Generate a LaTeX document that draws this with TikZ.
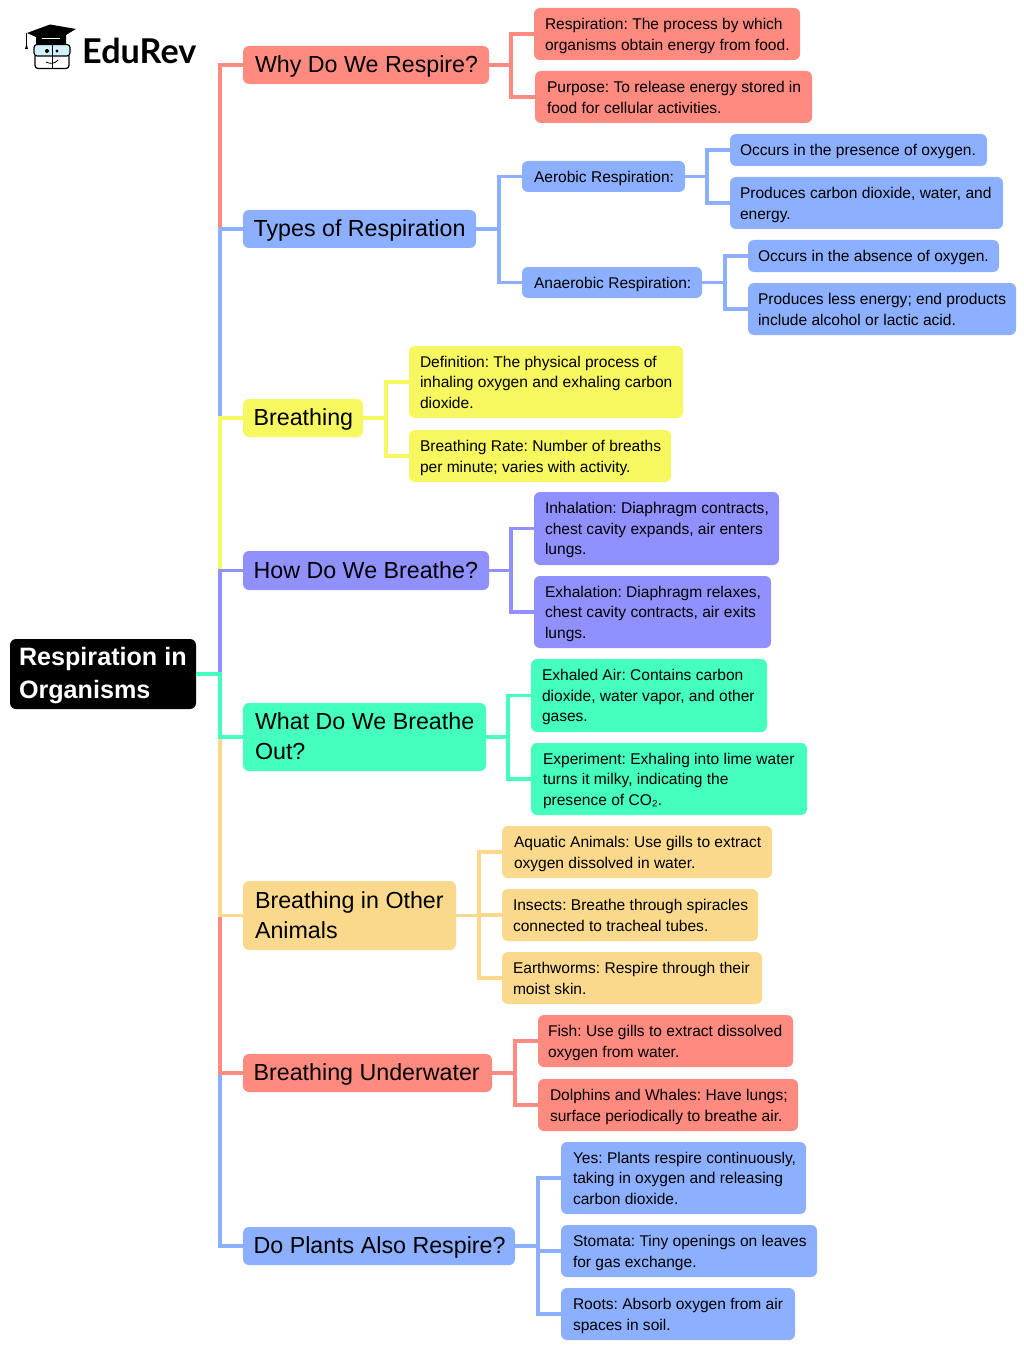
\documentclass[tikz,border=0pt]{standalone}
\usepackage{fontspec}
\setmainfont{Liberation Sans}
\newfontfamily\logofont{Lato}
\usepackage{array}
\frenchspacing
\definecolor{cred}{HTML}{FF8A80}
\definecolor{cblue}{HTML}{8CB0FF}
\definecolor{cyel}{HTML}{F7F75F}
\definecolor{cpur}{HTML}{9090FF}
\definecolor{cgrn}{HTML}{45FFBF}
\definecolor{corg}{HTML}{FBD98C}
\newcommand\smallf{\fontsize{15.55}{20.7}\selectfont\def\tdy{5.2pt}}
\newcommand\bigf{\fontsize{23.25}{30}\selectfont\def\tdy{7.8pt}}
% name x1 y1 x2 y2 colour textx font text
\newcommand\bx[9]{%
  \pgfmathsetlengthmacro\bw{(#4-#2)*1pt}%
  \pgfmathsetlengthmacro\bh{(#5-#3)*1pt}%
  \pgfmathsetlengthmacro\bp{(#7-#2)*1pt}%
  \node[boxstyle,fill=#6,minimum width=\bw,minimum height=\bh] (#1) at (#2,#3)
    {\makebox[\bw][l]{\hspace*{\bp}#8\raisebox{-\tdy}[0pt][0pt]{\begin{tabular}{@{}l@{}}#9\end{tabular}}}};}
\newcommand\cn[4]{% colour parent trunk-x child
  \draw[conn,#1] (#2.east) -- (#2.east -| #3) |- (#4.west);}
\tikzset{
  boxstyle/.style={anchor=north west,rounded corners=6pt,inner sep=0pt,outer sep=0pt,text=black},
  conn/.style={line width=3.4pt,line join=miter}
}
\begin{document}
\begin{tikzpicture}[x=1pt,y=-1pt]
\useasboundingbox (0,0) rectangle (1024,1348);
\fill[white] (0,0) rectangle (1024,1348);
% trunk coordinates
\foreach \n/\x in {tm/220,ta/511,tb/499,tc/707,td/725,te/386,tf/511,tg/508,th/479,ti/515,tj/538}
  \coordinate (\n) at (\x,0);
% root
\node[boxstyle,fill=black,text=white,minimum width=186pt,minimum height=70pt] (root) at (10,639)
  {\makebox[186pt][l]{\hspace*{9pt}\fontsize{25.15}{33}\selectfont\bfseries\raisebox{-7.5pt}[0pt][0pt]{\begin{tabular}{@{}l@{}}Respiration in\\Organisms\end{tabular}}}};
% level 1
\bx{why}{243}{46}{489}{84}{cred}{255}{\bigf}{Why Do We Respire?}
\bx{types}{243}{210}{476}{248}{cblue}{253.6}{\bigf}{Types of Respiration}
\bx{breath}{243}{399}{363}{437}{cyel}{253.6}{\bigf}{Breathing}
\bx{how}{243}{551}{489}{590}{cpur}{253.6}{\bigf}{How Do We Breathe?}
\bx{out}{243}{703}{486}{771}{cgrn}{255}{\bigf}{What Do We Breathe\\Out?}
\bx{other}{243}{881}{456}{950}{corg}{255}{\bigf}{Breathing in Other\\Animals}
\bx{under}{243}{1054}{492}{1092}{cred}{253.6}{\bigf}{Breathing Underwater}
\bx{plants}{243}{1227}{515}{1265}{cblue}{253.6}{\bigf}{Do Plants Also Respire?}
% level 2
\bx{wa}{534}{8}{800}{60}{cred}{545}{\smallf}{Respiration: The process by which\\organisms obtain energy from food.}
\bx{wb}{535}{71}{812}{123}{cred}{547}{\smallf}{Purpose: To release energy stored in\\food for cellular activities.}
\bx{aer}{522}{161}{685}{192}{cblue}{534}{\smallf}{Aerobic Respiration:}
\bx{ana}{522}{267}{702}{298}{cblue}{534}{\smallf}{Anaerobic Respiration:}
\bx{aa}{730}{134}{987}{166}{cblue}{740}{\smallf}{Occurs in the presence of oxygen.}
\bx{ab}{730}{177}{1003}{229}{cblue}{740}{\smallf}{Produces carbon dioxide, water, and\\energy.}
\bx{na}{748}{240}{999}{272}{cblue}{758}{\smallf}{Occurs in the absence of oxygen.}
\bx{nb}{748}{283}{1016}{335}{cblue}{758}{\smallf}{Produces less energy; end products\\include alcohol or lactic acid.}
\bx{ba}{409}{346}{683}{418}{cyel}{420}{\smallf}{Definition: The physical process of\\inhaling oxygen and exhaling carbon\\dioxide.}
\bx{bb}{409}{430}{671}{482}{cyel}{420}{\smallf}{Breathing Rate: Number of breaths\\per minute; varies with activity.}
\bx{ha}{534}{492}{779}{565}{cpur}{545}{\smallf}{Inhalation: Diaphragm contracts,\\chest cavity expands, air enters\\lungs.}
\bx{hb}{534}{576}{771}{648}{cpur}{545}{\smallf}{Exhalation: Diaphragm relaxes,\\chest cavity contracts, air exits\\lungs.}
\bx{oa}{531}{659}{767}{732}{cgrn}{542}{\smallf}{Exhaled Air: Contains carbon\\dioxide, water vapor, and other\\gases.}
\bx{ob}{531}{743}{807}{815}{cgrn}{543}{\smallf}{Experiment: Exhaling into lime water\\turns it milky, indicating the\\presence of CO₂.}
\bx{ta1}{502}{826}{772}{878}{corg}{514}{\smallf}{Aquatic Animals: Use gills to extract\\oxygen dissolved in water.}
\bx{ta2}{502}{889}{758}{941}{corg}{513}{\smallf}{Insects: Breathe through spiracles\\connected to tracheal tubes.}
\bx{ta3}{502}{952}{762}{1004}{corg}{513}{\smallf}{Earthworms: Respire through their\\moist skin.}
\bx{ua}{538}{1015}{793}{1067}{cred}{548}{\smallf}{Fish: Use gills to extract dissolved\\oxygen from water.}
\bx{ub}{538}{1079}{798}{1131}{cred}{550}{\smallf}{Dolphins and Whales: Have lungs;\\surface periodically to breathe air.}
\bx{pa}{561}{1142}{806}{1214}{cblue}{573}{\smallf}{Yes: Plants respire continuously,\\taking in oxygen and releasing\\carbon dioxide.}
\bx{pb}{561}{1225}{817}{1277}{cblue}{573}{\smallf}{Stomata: Tiny openings on leaves\\for gas exchange.}
\bx{pc}{561}{1288}{795}{1340}{cblue}{573}{\smallf}{Roots: Absorb oxygen from air\\spaces in soil.}
% connectors: outermost first so that nearer colours lie on top
\cn{cred}{root}{tm}{why}
\cn{cblue}{root}{tm}{types}
\cn{cyel}{root}{tm}{breath}
\cn{cpur}{root}{tm}{how}
\cn{cblue}{root}{tm}{plants}
\cn{cred}{root}{tm}{under}
\cn{corg}{root}{tm}{other}
\cn{cgrn}{root}{tm}{out}
\cn{cred}{why}{ta}{wa}
\cn{cred}{why}{ta}{wb}
\cn{cblue}{types}{tb}{aer}
\cn{cblue}{types}{tb}{ana}
\cn{cblue}{aer}{tc}{aa}
\cn{cblue}{aer}{tc}{ab}
\cn{cblue}{ana}{td}{na}
\cn{cblue}{ana}{td}{nb}
\cn{cyel}{breath}{te}{ba}
\cn{cyel}{breath}{te}{bb}
\cn{cpur}{how}{tf}{ha}
\cn{cpur}{how}{tf}{hb}
\cn{cgrn}{out}{tg}{oa}
\cn{cgrn}{out}{tg}{ob}
\cn{corg}{other}{th}{ta1}
\cn{corg}{other}{th}{ta2}
\cn{corg}{other}{th}{ta3}
\cn{cred}{under}{ti}{ua}
\cn{cred}{under}{ti}{ub}
\cn{cblue}{plants}{tj}{pa}
\cn{cblue}{plants}{tj}{pb}
\cn{cblue}{plants}{tj}{pc}
% logo
\node[anchor=west,inner sep=0pt,text=black] (logo) at (82,51) {\logofont\fontsize{34.2}{36}\selectfont\bfseries EduRev};
\fill[black] (27,33) -- (50,24.5) -- (76,29) -- (66,35) -- (66,44) -- (36,44) -- (36,37) -- cycle;
\draw[black,line width=1pt] (26.5,33) -- (26.5,46);
\fill[black] (26.5,44) -- (28,49) -- (25,49) -- cycle;
\draw[black,line width=1.2pt,fill=cyan!18,rounded corners=3pt] (34,44.5) rectangle (70,56);
\draw[black,line width=1.2pt,rounded corners=3pt] (35,56) -- (35,68.5) -- (69,68.5) -- (69,56);
\draw[black,line width=1pt] (52.5,44) -- (52.5,69);
\fill[black] (47,51) circle (2pt) (57,51) circle (1.7pt);
\draw[black,line width=.8pt] (46,62) .. controls (50,64) and (55,64) .. (58,60);
\draw[white,line width=.8pt] (42,38) -- (60,38);
\end{tikzpicture}
\end{document}
